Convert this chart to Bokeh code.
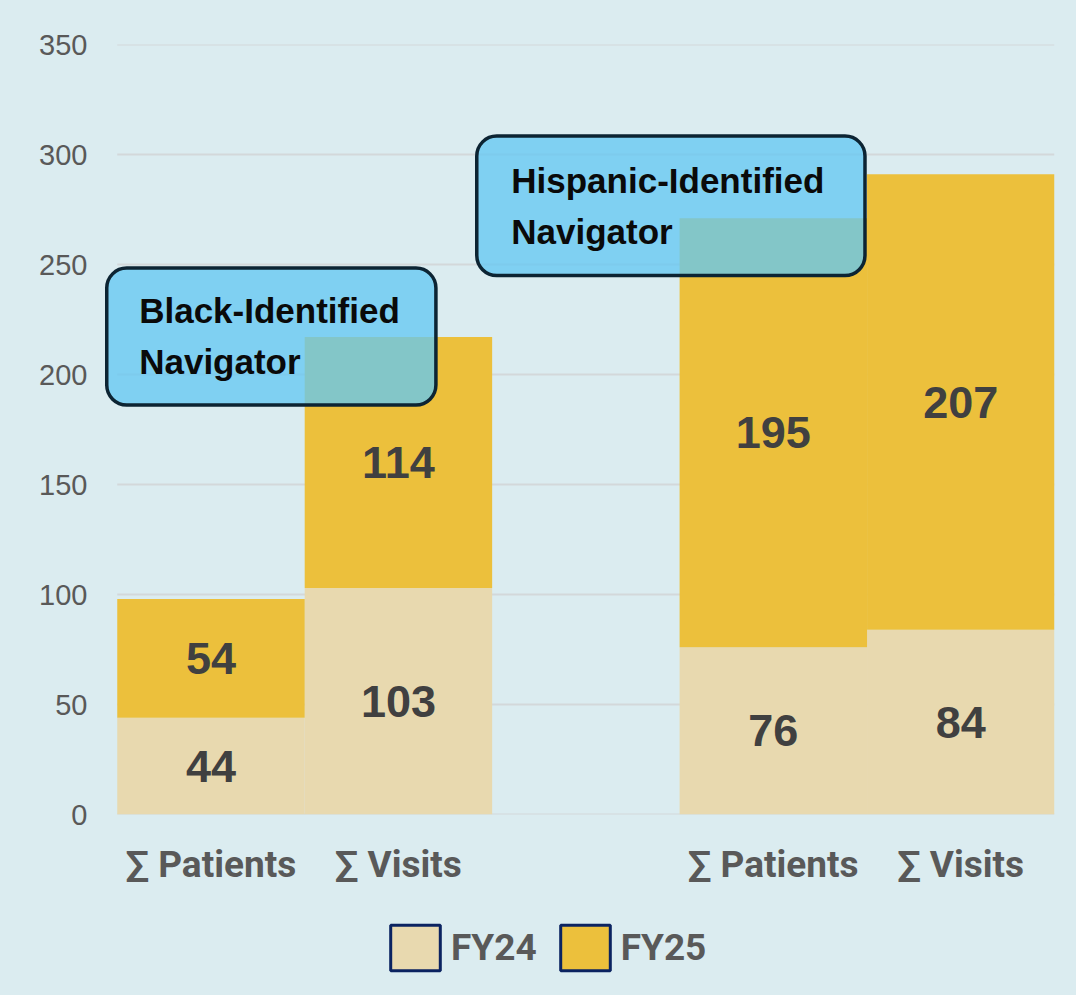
from bokeh.plotting import figure
from bokeh.layouts import column
from bokeh.models import (ColumnDataSource, Range1d, FixedTicker, BoxAnnotation,
                          Label, Legend, LegendItem)
from bokeh.core.properties import value
from bokeh.embed import file_html
from bokeh.resources import INLINE

# ---- data ----
groups = ["Black-Identified Navigator", "Hispanic-Identified Navigator"]
measures = ["∑ Patients", "∑ Visits"]
fy24 = [44, 103, 76, 84]
fy25 = [54, 114, 195, 207]
series = ["FY24", "FY25"]
y_ticks = [0, 50, 100, 150, 200, 250, 300, 350]

BG = "#dbecf0"
C24 = "#e8d9af"
C25 = "#ecc03c"
GRAY = "#595959"
NAVY = "#0b2361"

# slot positions: one empty slot between groups
xs, cat_labels = [], []
for gi, g in enumerate(groups):
    for mi, m in enumerate(measures):
        xs.append(gi * (len(measures) + 1) + mi + 0.5)
        cat_labels.append(m)
n_slots = len(groups) * (len(measures) + 1) - 1

top25 = [a + b for a, b in zip(fy24, fy25)]
mid24 = [a / 2 for a in fy24]
mid25 = [a + b / 2 for a, b in zip(fy24, fy25)]

src = ColumnDataSource(dict(x=xs, fy24=fy24, top25=top25, mid24=mid24, mid25=mid25,
                            t24=[str(v) for v in fy24], t25=[str(v) for v in fy25]))

p = figure(width=1076, height=900, x_range=Range1d(-0.1, n_slots), y_range=Range1d(0, 350),
           output_backend="svg", toolbar_location=None,
           min_border_left=98, min_border_right=22, min_border_top=44, min_border_bottom=86)
p.background_fill_alpha = 0
p.border_fill_color = BG
p.outline_line_color = None

# horizontal gridlines spanning only the slot area
p.segment(x0=0, x1=n_slots, y0=y_ticks, y1=y_ticks, line_color="#d3d8da", line_width=2)

p.vbar(x="x", width=1.0, bottom=0, top="fy24", source=src, fill_color=C24, line_color=None)
p.vbar(x="x", width=1.0, bottom="fy24", top="top25", source=src, fill_color=C25, line_color=None)

for ycol, tcol in (("mid24", "t24"), ("mid25", "t25")):
    p.text(x="x", y=ycol, text=tcol, source=src, text_font=value("Liberation Sans"),
           text_font_style="bold", text_font_size="45px", text_color="#404040",
           text_align="center", text_baseline="middle")

# axes
p.xaxis.ticker = FixedTicker(ticks=xs)
p.xaxis.major_label_overrides = {x: l for x, l in zip(xs, cat_labels)}
p.xaxis.axis_line_color = None
p.xaxis.major_tick_line_color = None
p.xaxis.minor_tick_line_color = None
p.xaxis.major_label_text_font = "Roboto"
p.xaxis.major_label_text_font_style = "bold"
p.xaxis.major_label_text_font_size = "37px"
p.xaxis.major_label_text_color = GRAY
p.xaxis.major_label_standoff = 22

p.yaxis.ticker = FixedTicker(ticks=y_ticks)
p.yaxis.axis_line_color = None
p.yaxis.major_tick_line_color = None
p.yaxis.minor_tick_line_color = None
p.yaxis.major_label_text_font = "Liberation Sans"
p.yaxis.major_label_text_font_size = "29px"
p.yaxis.major_label_text_color = GRAY
p.yaxis.major_label_standoff = 5

p.xgrid.visible = False
p.ygrid.visible = False

# callouts
callouts = [
    dict(box=(-0.056, 1.70, 248.4, 186.1), tx=0.117, ty=(229.1, 206.1),
         lines=["Black-Identified", "Navigator"]),
    dict(box=(1.918, 3.989, 308.4, 245.0), tx=2.102, ty=(288.2, 265.0),
         lines=["Hispanic-Identified", "Navigator"]),
]
for c in callouts:
    l, r, t, b = c["box"]
    p.add_layout(BoxAnnotation(left=l, right=r, top=t, bottom=b, fill_color="#63c7f2",
                               fill_alpha=0.77, line_color="#0c2433", line_alpha=1.0,
                               line_width=3.5, border_radius=20, level="overlay"))
    for line, ty in zip(c["lines"], c["ty"]):
        p.add_layout(Label(x=c["tx"], y=ty, text=line, text_font="Liberation Sans",
                           text_font_style="bold", text_font_size="35px",
                           text_color="#0a0a0a", text_baseline="middle",
                           text_align="left", level="overlay"))

# legend strip below the chart (its frame is aligned with the chart's frame)
lg = figure(width=1076, height=95, x_range=Range1d(0, 1), y_range=Range1d(0, 1),
            output_backend="svg", toolbar_location=None,
            min_border_left=98, min_border_right=22, min_border_top=0, min_border_bottom=0)
lg.axis.visible = False
lg.grid.visible = False
lg.outline_line_color = None
lg.background_fill_alpha = 0
lg.border_fill_color = BG

# hidden swatch renderers; only the legend draws them
swatch = ColumnDataSource(dict(x=[0.5], top=[1]))
r24 = lg.vbar(x="x", top="top", width=1, source=swatch, fill_color=C24,
              line_color=NAVY, line_width=3)
r25 = lg.vbar(x="x", top="top", width=1, source=swatch, fill_color=C25,
              line_color=NAVY, line_width=3)
r24.visible = False
r25.visible = False
legend = Legend(items=[LegendItem(label=value(series[0]), renderers=[r24]),
                       LegendItem(label=value(series[1]), renderers=[r25])],
                orientation="horizontal", location=(286, 19),
                glyph_width=62, glyph_height=57, label_standoff=5, spacing=17,
                padding=0, margin=0, border_line_color=None, background_fill_alpha=0,
                label_text_font="Roboto", label_text_font_style="bold",
                label_text_font_size="37px", label_text_color=GRAY)
lg.add_layout(legend, "center")

layout = column(p, lg, spacing=0, styles={"background-color": BG})
open("out.html", "w").write(file_html(layout, INLINE))
